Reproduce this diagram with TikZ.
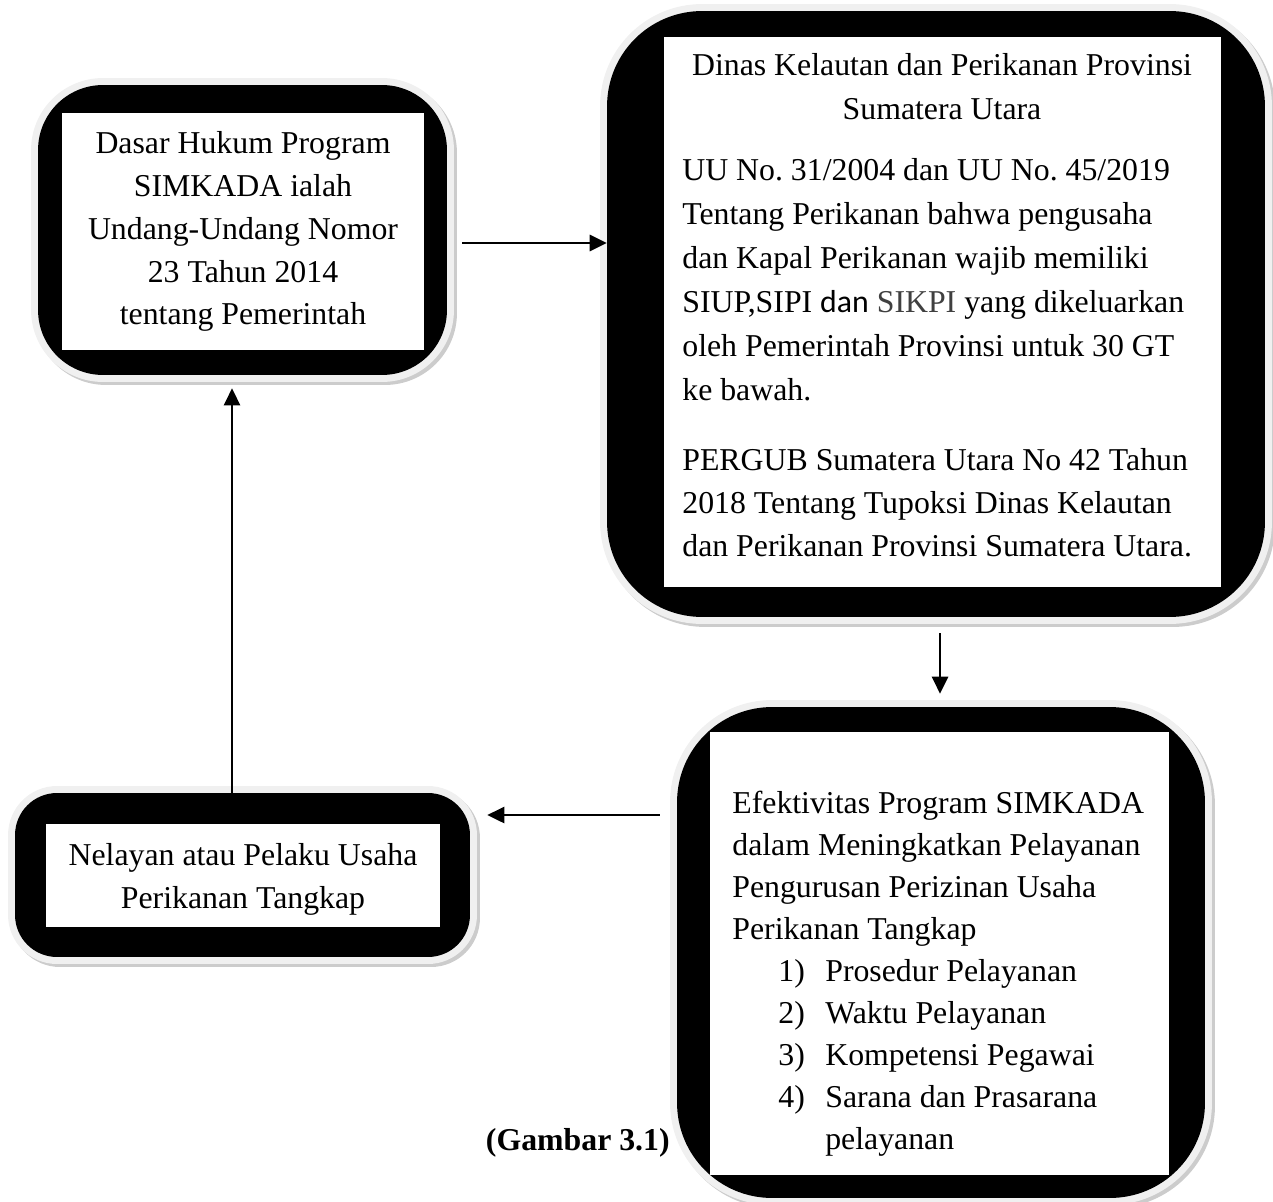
\documentclass[tikz,border=0pt]{standalone}
\usepackage{fontspec}
\setmainfont{Liberation Serif}
\newfontfamily\calibri{Carlito}
\usepackage{tikz}
\usetikzlibrary{positioning,arrows.meta}
\definecolor{abu}{RGB}{64,64,64}
\newcommand{\butir}[2]{\hspace*{0.92cm}\makebox[0.94cm][l]{#1}#2}
\frenchspacing

\tikzset{
  bingkai/.style={fill=black, rounded corners=#1,
    preaction={draw=gray!40, line width=0.28cm, transform canvas={shift={(0.06cm,-0.06cm)}}},
    preaction={draw=gray!12, line width=0.28cm}},
  teks/.style={font=\fontsize{18.1pt}{24.4pt}\selectfont, inner sep=0pt},
  panah/.style={-{Triangle[length=0.34cm,width=0.32cm]}, line width=0.055cm}
}

\begin{document}
\begin{tikzpicture}[x=0.02cm,y=-0.02cm]
      \useasboundingbox (0,0) rectangle (1273,1202);
      % kotak
      \node (dasar) [bingkai=1.3cm, minimum width=8.18cm, minimum height=5.8cm] at (242.5,230) {};
      \node (dinas) [bingkai=1.9cm, minimum width=13.16cm, minimum height=12.12cm] at (936,314) {};
      \node (efek) [bingkai=1.9cm, minimum width=10.56cm, minimum height=9.82cm] at (941,952.5) {};
      \node (nelayan) [bingkai=0.84cm, minimum width=9.1cm, minimum height=3.28cm] at (242.5,875) {};
      \fill[white] (62,113) rectangle (424,350);
      \fill[white] (664,37) rectangle (1221,587);
      \fill[white] (710,732) rectangle (1169,1175);
      \fill[white] (46,824) rectangle (440,927);
      % teks
      \node (dasar-t) [teks, align=center, anchor=north] at (243,131)
        {Dasar Hukum Program\\SIMKADA ialah\\Undang-Undang Nomor\\23 Tahun 2014\\tentang Pemerintah};
      \node (dinas-t) [teks, font=\fontsize{18.1pt}{25pt}\selectfont, align=center, anchor=north] at (942,53)
        {Dinas Kelautan dan Perikanan Provinsi\\Sumatera Utara};
      \node (dinas-uu) [teks, font=\fontsize{18.1pt}{25pt}\selectfont, align=left, anchor=north west] at (682,158)
        {UU No. 31/2004 dan UU No. 45/2019\\Tentang Perikanan bahwa pengusaha\\dan Kapal Perikanan wajib memiliki\\SIUP,SIPI {\calibri dan} \textcolor{abu}{SIKPI} yang dikeluarkan\\oleh Pemerintah Provinsi untuk 30 GT\\ke bawah.};
      \node (dinas-pg) [teks, align=left, anchor=north west] at (682,448)
        {PERGUB Sumatera Utara No 42 Tahun\\2018 Tentang Tupoksi Dinas Kelautan\\dan Perikanan Provinsi Sumatera Utara.};
      \node (efek-t) [teks, font=\fontsize{18.1pt}{23.9pt}\selectfont, align=left, anchor=north west] at (732,791)
        {Efektivitas Program SIMKADA\\dalam Meningkatkan Pelayanan\\Pengurusan Perizinan Usaha\\Perikanan Tangkap\\
         \butir{1)}{Prosedur Pelayanan}\\\butir{2)}{Waktu Pelayanan}\\\butir{3)}{Kompetensi Pegawai}\\
         \butir{4)}{Sarana dan Prasarana}\\\hspace*{1.86cm}pelayanan};
      \node (nelayan-t) [teks, align=center, anchor=north] at (243,843)
        {Nelayan atau Pelaku Usaha\\Perikanan Tangkap};
      \node (gambar) [teks, font=\fontsize{18.1pt}{24pt}\selectfont\bfseries, anchor=base east] at (670,1150) {(Gambar 3.1)};
      % panah
      \draw[panah, shorten <=0.3cm] (dasar.east |- 0,243) -- (dinas.west |- 0,243);
      \draw[panah, shorten <=0.32cm, shorten >=0.26cm] (dinas.south -| 940,0) -- (efek.north -| 940,0);
      \draw[panah, shorten <=0.34cm, shorten >=0.34cm] (efek.west |- 0,815) -- (nelayan.east |- 0,815);
      \draw[panah, shorten >=0.26cm] (nelayan.north -| 232,0) -- (dasar.south -| 232,0);
\end{tikzpicture}
\end{document}
